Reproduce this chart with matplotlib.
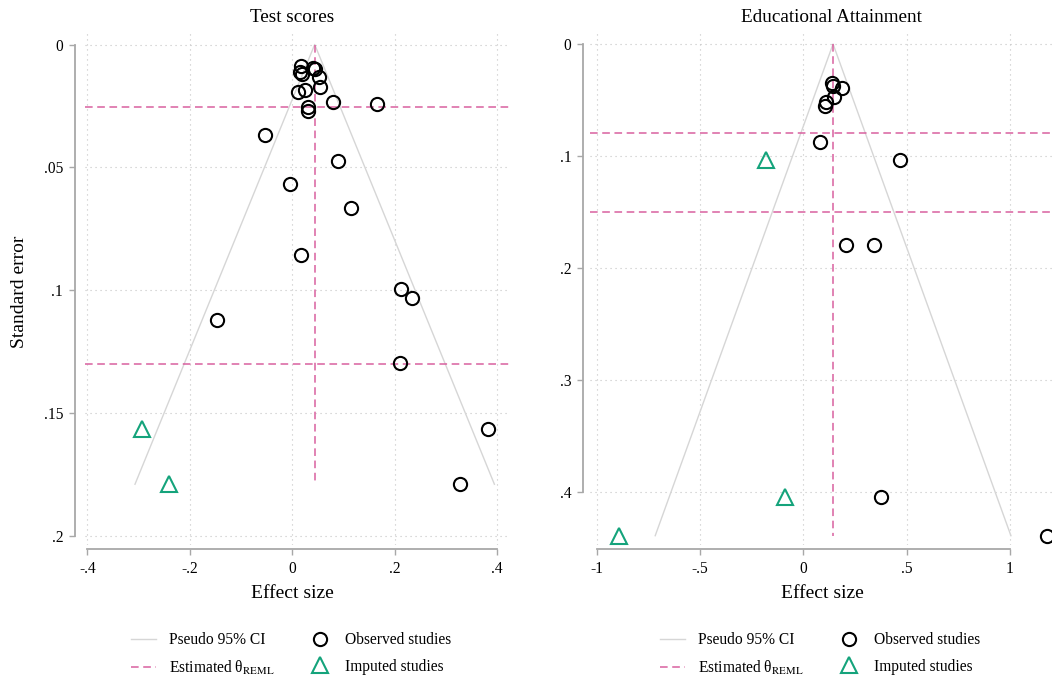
import matplotlib
matplotlib.use("Agg")
import matplotlib.pyplot as plt
from matplotlib.ticker import FuncFormatter

plt.rcParams['font.family'] = ['Liberation Serif', 'DejaVu Serif']
plt.rcParams['mathtext.fontset'] = 'stix'

# ---------------- data ----------------
# Test scores panel
ts_obs_es = [0.017, 0.016, 0.019, 0.040, 0.044, 0.053, 0.054, 0.025, 0.012,
             0.079, 0.165, 0.031, 0.031, -0.053, 0.090, -0.005, 0.114, 0.017,
             0.212, 0.234, -0.147, 0.210, 0.381, 0.327]
ts_obs_se = [0.0087, 0.0111, 0.0121, 0.0097, 0.0101, 0.0134, 0.0172, 0.0185, 0.0192,
             0.0235, 0.0243, 0.0253, 0.0269, 0.0368, 0.0474, 0.0567, 0.0665, 0.0856,
             0.0995, 0.1031, 0.1120, 0.1296, 0.1564, 0.1789]
ts_imp_es = [-0.294, -0.240]
ts_imp_se = [0.1564, 0.1789]
ts_theta = 0.0437
ts_hlines = [0.0254, 0.1300]
ts_xticks = [-0.4, -0.2, 0, 0.2, 0.4]
ts_yticks = [0, 0.05, 0.1, 0.15, 0.2]

# Educational attainment panel
ea_obs_es = [0.139, 0.142, 0.189, 0.150, 0.110, 0.104, 0.082, 0.468,
             0.207, 0.342, 0.376, 1.178]
ea_obs_se = [0.0346, 0.0372, 0.0390, 0.0470, 0.0518, 0.0551, 0.0878, 0.1038,
             0.1795, 0.1795, 0.4047, 0.4390]
ea_imp_es = [-0.180, -0.088, -0.890]
ea_imp_se = [0.1038, 0.4047, 0.4390]
ea_theta = 0.144
ea_hlines = [0.0795, 0.1500]
ea_xticks = [-1, -0.5, 0, 0.5, 1]
ea_yticks = [0, 0.1, 0.2, 0.3, 0.4]

titles = ["Test scores", "Educational Attainment"]
xlabel = "Effect size"
ylabel = "Standard error"
legend_labels = ["Pseudo 95% CI", "Estimated θ$_{\\mathrm{REML}}$",
                 "Observed studies", "Imputed studies"]

# ---------------- style ----------------
W, H = 1052, 681
PINK = '#d9609f'
GREEN = '#14a37b'
CIGRAY = '#d6d6d6'
GRIDC = '#c4c4c4'
SPINEC = '#a8a8a8'

fig = plt.figure(figsize=(W / 100, H / 100), dpi=100)


def stata_fmt(v, pos=None):
    s = ('%g' % round(v, 6))
    if s.startswith('0.'):
        s = s[1:]
    elif s.startswith('-0.'):
        s = '-' + s[2:]
    return s


def make_panel(zero_x, ppu_x, zero_y, ppu_y, xlim, ylim, spine_x_px):
    left = zero_x + xlim[0] * ppu_x
    right = zero_x + xlim[1] * ppu_x
    top = zero_y + ylim[1] * ppu_y
    bottom = zero_y + ylim[0] * ppu_y
    ax = fig.add_axes([left / W, 1 - bottom / H, (right - left) / W, (bottom - top) / H])
    ax.set_xlim(*xlim)
    ax.set_ylim(*ylim)
    ax.spines['top'].set_visible(False)
    ax.spines['right'].set_visible(False)
    ax.spines['left'].set_position(('axes', (spine_x_px - left) / (right - left)))
    ax.spines['bottom'].set_position(('axes', -(549 - bottom) / (bottom - top)))
    for s in ('left', 'bottom'):
        ax.spines[s].set_color(SPINEC)
        ax.spines[s].set_linewidth(1.3)
    return ax


def draw(ax, obs_es, obs_se, imp_es, imp_se, theta, hlines, xticks, yticks):
    se_max = max(obs_se + imp_se)
    ci, = ax.plot([theta - 1.96 * se_max, theta, theta + 1.96 * se_max],
                  [se_max, 0, se_max], color=CIGRAY, lw=1.0, zorder=2)
    th, = ax.plot([theta, theta], [0, se_max], color=PINK, lw=1.1, zorder=3)
    th.set_dashes([5, 3])
    for h in hlines:
        l = ax.axhline(h, color=PINK, lw=1.1, zorder=3)
        l.set_dashes([5, 3])
    ob, = ax.plot(obs_es, obs_se, linestyle='none', marker='o', ms=9.5,
                  mfc='none', mec='black', mew=1.5, zorder=5, clip_on=False)
    im, = ax.plot(imp_es, imp_se, linestyle='none', marker='^', ms=12,
                  mfc='none', mec=GREEN, mew=1.5, zorder=5, clip_on=False)
    ax.set_xticks(xticks)
    ax.set_yticks(yticks)
    ax.xaxis.set_major_formatter(FuncFormatter(stata_fmt))
    ax.yaxis.set_major_formatter(FuncFormatter(stata_fmt))
    ax.spines['left'].set_bounds(yticks[0], yticks[-1])
    ax.spines['bottom'].set_bounds(xticks[0], xticks[-1])
    ax.tick_params(direction='out', length=4.5, width=1.0, color=SPINEC,
                   labelsize=11.2, labelcolor='black', pad=4)
    ax.grid(True, linestyle=(0, (1, 3.5)), color=GRIDC, lw=0.8, zorder=0)
    ax.set_axisbelow(True)
    return [ci, th, ob, im]


ax1 = make_panel(292.3, 512.5, 44.5, 2458.0, (-0.405, 0.425), (0.2036, -0.0047), 75)
h1 = draw(ax1, ts_obs_es, ts_obs_se, ts_imp_es, ts_imp_se, ts_theta, ts_hlines,
          ts_xticks, ts_yticks)

ax2 = make_panel(803.3, 206.7, 44.0, 1120.0, (-1.03, 1.25), (0.4473, -0.0098), 583.3)
h2 = draw(ax2, ea_obs_es, ea_obs_se, ea_imp_es, ea_imp_se, ea_theta, ea_hlines,
          ea_xticks, ea_yticks)

# titles and axis labels
fig.text(292 / W, 1 - 18 / H, titles[0], ha='center', va='center', fontsize=13.8)
fig.text(831 / W, 1 - 18 / H, titles[1], ha='center', va='center', fontsize=13.8)
fig.text(292 / W, 1 - 594 / H, xlabel, ha='center', va='center', fontsize=14)
fig.text(822 / W, 1 - 594 / H, xlabel, ha='center', va='center', fontsize=14)
fig.text(20 / W, 1 - 292 / H, ylabel, ha='center', va='center', rotation=90, fontsize=14)

# legends
for ax, hs, x0 in ((ax1, h1, 131), (ax2, h2, 660)):
    ax.legend(handles=hs, labels=legend_labels, ncol=2, loc='upper left',
              bbox_to_anchor=(x0 / W, 1 - 632 / H), bbox_transform=fig.transFigure,
              frameon=False, borderpad=0, borderaxespad=0, handlelength=1.6,
              handletextpad=0.85, columnspacing=2.1, labelspacing=0.7,
              fontsize=11.2)

fig.savefig('out.png', dpi=100)
